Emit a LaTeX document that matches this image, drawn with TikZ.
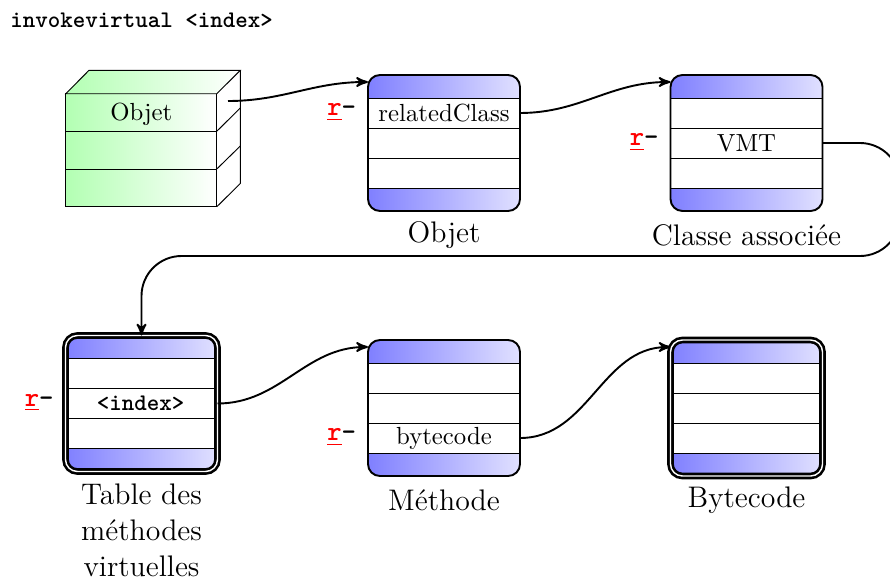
\documentclass[tikz,border=0pt]{standalone}
\usepackage{tikz}
\usetikzlibrary{positioning,arrows}

\begin{document}
\begin{tikzpicture}[x=0.42pt,y=-0.42pt,>=stealth']
  \tikzstyle{cell}=[minimum width=63.84pt,minimum height=12.6pt,inner sep=0pt,outer sep=0pt,draw=black]
  \tikzstyle{band}=[cell,minimum height=9.66pt,left color=blue!50,right color=blue!12]
  \tikzstyle{plainbox}=[minimum width=63.84pt,minimum height=57.12pt,inner sep=0pt,outer sep=0pt,rounded corners=5pt,draw=black,line width=0.8pt]
  \tikzstyle{doublebox}=[plainbox,double,line width=1.1pt,double distance=0.6pt]
  \tikzstyle{front}=[minimum width=63.42pt,minimum height=15.75pt,inner sep=0pt,outer sep=0pt,draw=black,left color=green!30,right color=white]
  \tikzstyle{caption}=[font=\fontsize{12.5}{15.1}\selectfont,align=center,inner sep=0pt]
  \tikzstyle{celltext}=[font=\fontsize{10.4}{12}\selectfont]
  \tikzstyle{reg}=[font=\fontsize{11.5}{13}\selectfont\ttfamily\bfseries,inner sep=0pt]
  \tikzstyle{link}=[->,line width=0.8pt]
  \useasboundingbox (0,0) rectangle (890,579);
  \node[font=\ttfamily\bfseries,anchor=west,inner sep=0pt] (title) at (10,20) {invokevirtual <index>};
  \foreach \name/\x/\y/\kind in {obj/444/143/plainbox, cls/746.5/143/plainbox, vmt/141.5/403.5/doublebox, meth/444/408/plainbox, code/746.5/408/doublebox}{
    \begin{scope}
      \clip[rounded corners=5pt] (\x-76,\y-68) rectangle (\x+76,\y+68);
      \foreach \r/\d/\s in {1/-56.5/band, 2/-30/cell, 3/0/cell, 4/30/cell, 5/56.5/band}
        \node[\s] (\name-\r) at (\x,\y+\d) {};
    \end{scope}
    \node[\kind] (\name) at (\x,\y) {};
    \coordinate (\name-in) at (\x-76,\y-61);
  }
  \foreach \r/\y in {1/112.5, 2/150.25, 3/188}
    \node[front] (cube-\r) at (141.3,\y) {};
  \draw[left color=green!30,right color=white] (cube-1.north west) -- (89,70.3) -- (240.3,70.3) -- (cube-1.north east) -- cycle;
  \draw (240.3,70.3) -- (240.3,183.5) -- (cube-3.south east);
  \draw (cube-1.south east) -- (240.3,108);
  \draw (cube-2.south east) -- (240.3,146);
  \coordinate (cube-out) at (228,101);
  \node[celltext,yshift=-0.6pt] (cube-text) at (cube-1) {Objet};
  \node[celltext] (related) at (obj-2) {relatedClass};
  \node[celltext] (vmttext) at (cls-3) {VMT};
  \node[font=\ttfamily\bfseries,xshift=-0.4pt] (index) at (vmt-3) {<index>};
  \node[celltext] (bytecode) at (meth-4) {bytecode};
  \foreach \row in {obj-2,cls-3,vmt-3,meth-4}
    \node[reg,left=4.8pt of \row,yshift=0.3pt] (r-\row) {{\color{red}\underline{r}}-};
  \node[caption] (capobj) at (444,235.5) {Objet};
  \node[caption] (capcls) at (746.5,235.5) {Classe associée};
  \node[caption] (capvmt) at (141.5,530) {Table des\\méthodes\\virtuelles};
  \node[caption] (capmeth) at (444,500) {Méthode};
  \node[caption] (capcode) at (746.5,500) {Bytecode};
  \draw[link] (cube-out) to[out=0,in=180] (obj-in);
  \draw[link] (obj-2.east) to[out=0,in=180] (cls-in);
  \draw[link,rounded corners=16.8pt] (cls-3.east) -- (900,143) -- (900,256) -- (141.5,256) -- (vmt.north);
  \draw[link] (vmt-3.east) to[out=0,in=180] (meth-in);
  \draw[link] (meth-4.east) to[out=0,in=180] (code-in);
\end{tikzpicture}
\end{document}
